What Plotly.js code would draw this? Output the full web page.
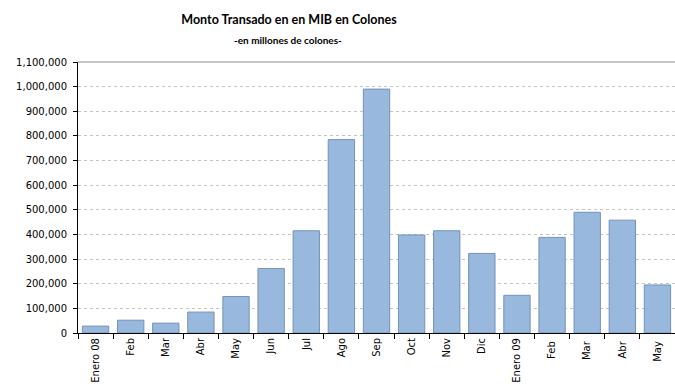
<!DOCTYPE html>
<html><head><meta charset="utf-8">
<script src="https://cdn.plot.ly/plotly-3.0.1.min.js"></script>
<style>html,body{margin:0;padding:0;background:#fff}#c{width:675px;height:392px}</style>
</head><body><div id="c"></div>
<script>
const categories = ["Enero 08","Feb","Mar","Abr","May","Jun","Jul","Ago","Sep","Oct","Nov","Dic","Enero 09","Feb ","Mar ","Abr ","May "];
const montos = [28000,52000,40000,85000,148000,262000,415000,785000,990000,398000,415000,323000,153000,388000,490000,458000,195000];
const yTicks = [0,100000,200000,300000,400000,500000,600000,700000,800000,900000,1000000,1100000];
const yTickText = ["0","100,000","200,000","300,000","400,000","500,000","600,000","700,000","800,000","900,000","1,000,000","1,100,000"];

const trace = {
  type: 'bar', x: categories, y: montos,
  width: 0.75,
  marker: {color: '#98b8de', line: {color: '#7392bb', width: 1}},
  hoverinfo: 'x+y'
};
const layout = {
  width: 675, height: 392,
  margin: {l: 78, r: 0, t: 62, b: 59},
  paper_bgcolor: '#fff', plot_bgcolor: '#fff',
  font: {family: 'DejaVu Sans, sans-serif', size: 10, color: '#000'},
  showlegend: false,
  title: {text: '<b>Monto Transado en en MIB en Colones</b>', font: {family: 'Lato, Open Sans, sans-serif', size: 12.5, color: '#000'},
          x: 289/675, xref: 'container', xanchor: 'center', y: 0.95, yref: 'container', yanchor: 'middle'},
  annotations: [{text: '<b>-en millones de colones-</b>', xref: 'paper', yref: 'paper', x: (288-78)/597, y: 1 + (62-40)/271,
                 xanchor: 'center', yanchor: 'middle', showarrow: false, font: {family: 'Lato, Open Sans, sans-serif', size: 10, color: '#000'}}],
  xaxis: {type: 'category', tickangle: -90, ticks: 'outside', tickson: 'boundaries', ticklen: 5, tickcolor: '#000',
          showline: true, linecolor: '#000', linewidth: 1, showgrid: false, zeroline: false, fixedrange: true,
          tickfont: {family: 'DejaVu Sans, sans-serif', size: 10}},
  yaxis: {range: [0, 1100000], tickvals: yTicks, ticktext: yTickText, ticks: 'outside', ticklen: 4, tickcolor: '#000',
          showline: true, linecolor: '#000', linewidth: 1, showgrid: true, gridcolor: '#c4c4c4', griddash: 'dot', gridwidth: 1,
          zeroline: false, ticklabelstandoff: 4, tickfont: {family: 'DejaVu Sans, sans-serif', size: 10}},
  shapes: [{type: 'line', xref: 'paper', yref: 'paper', x0: 0, x1: 1, y0: 1, y1: 1, line: {color: '#8c8c8c', width: 1}}],
  bargap: 0.25
};
Plotly.newPlot('c', [trace], layout, {displayModeBar: false, staticPlot: true});
</script></body></html>
